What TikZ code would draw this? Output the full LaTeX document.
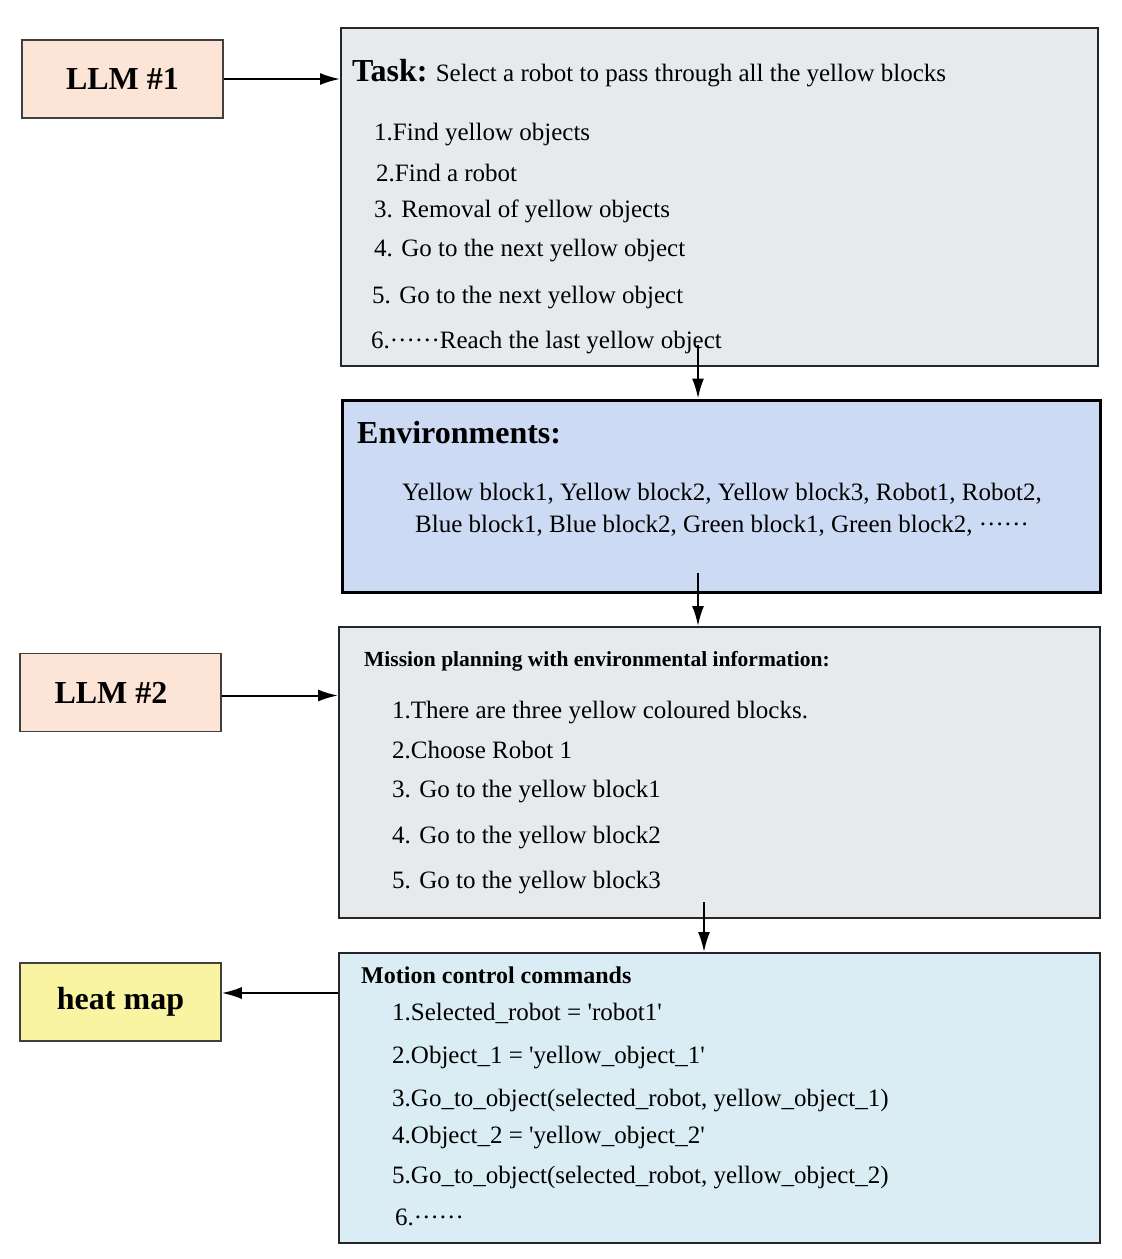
\documentclass[tikz,border=0pt]{standalone}
\usepackage{fontspec}
\setmainfont{Liberation Serif}
\usetikzlibrary{arrows.meta}
\definecolor{peach}{HTML}{FCE4D6}
\definecolor{panelgray}{HTML}{E7EAED}
\definecolor{envblue}{HTML}{CCDAF3}
\definecolor{cmdblue}{HTML}{DAEDF4}
\definecolor{heatyellow}{HTML}{F8F4A2}
\newcommand{\middots}{\raisebox{0.28em}{……}}
\newcommand{\sq}{\textquotesingle}

\begin{document}
\begin{tikzpicture}[x=1pt, y=-1pt,
        llmbox/.style={draw=black!75, line width=1.5pt, minimum width=201pt, minimum height=78pt,
            inner sep=0pt, font=\bfseries\fontsize{32}{38}\selectfont},
        panel/.style={draw=black!85, line width=2pt, inner sep=0pt},
        line/.style={anchor=base west, inner sep=0pt, font=\fontsize{25}{30}\selectfont},
        flow/.style={-{Latex[length=20pt, width=12pt]}, line width=2pt}]
        \useasboundingbox (0, 0) rectangle (1122, 1259);

        \node[llmbox, fill=peach] (llm1) at (122.5, 79) {LLM \#1};
        \node[llmbox, fill=peach] (llm2) at (120.5, 692.5) {\hspace*{-19pt}LLM \#2};
        \node[llmbox, fill=heatyellow] (heat) at (120.5, 1002) {heat map};

        \node[panel, fill=panelgray, minimum width=757pt, minimum height=338pt] (task) at (719.5, 197) {};
        \node[panel, fill=envblue, draw=black, line width=3pt, minimum width=758pt, minimum height=192pt] (env) at (721, 496) {};
        \node[panel, fill=panelgray, minimum width=761pt, minimum height=291pt] (mission) at (719.5, 772.5) {};
        \node[panel, fill=cmdblue, minimum width=761pt, minimum height=290pt] (motion) at (719.5, 1098) {};

        \node[line] (task-head) at (352, 81) {{\bfseries\fontsize{32}{38}\selectfont Task:} Select a robot to pass through all the yellow blocks};
        \node[line] (task-1) at (374, 140) {1.Find yellow objects};
        \node[line] (task-2) at (376, 181) {2.Find a robot};
        \node[line] (task-3) at (374, 217) {3. Removal of yellow objects};
        \node[line] (task-4) at (374, 256) {4. Go to the next yellow object};
        \node[line] (task-5) at (372, 303) {5. Go to the next yellow object};
        \node[line] (task-6) at (371, 348) {6.\middots Reach the last yellow object};

        \node[line, font=\bfseries\fontsize{32}{38}\selectfont] (env-head) at (357, 443) {Environments:};
        \node[inner sep=0pt, align=center, font=\fontsize{25}{32}\selectfont] (env-list) at (722, 510)
            {Yellow block1, Yellow block2, Yellow block3, Robot1, Robot2,\\
             Blue block1, Blue block2, Green block1, Green block2, \middots};

        \node[line, font=\bfseries\fontsize{21.5}{26}\selectfont] (mission-head) at (364, 666) {Mission planning with environmental information:};
        \node[line] (mission-1) at (392, 718) {1.There are three yellow coloured blocks.};
        \node[line] (mission-2) at (392, 758) {2.Choose Robot 1};
        \node[line] (mission-3) at (392, 797) {3. Go to the yellow block1};
        \node[line] (mission-4) at (392, 843) {4. Go to the yellow block2};
        \node[line] (mission-5) at (392, 888) {5. Go to the yellow block3};

        \node[line, font=\bfseries\fontsize{24}{29}\selectfont] (motion-head) at (361, 983) {Motion control commands};
        \node[line] (motion-1) at (392, 1020) {1.Selected\_robot = \sq robot1\sq};
        \node[line] (motion-2) at (392, 1063) {2.Object\_1 = \sq yellow\_object\_1\sq};
        \node[line] (motion-3) at (392, 1106) {3.Go\_to\_object(selected\_robot, yellow\_object\_1)};
        \node[line] (motion-4) at (392, 1143) {4.Object\_2 = \sq yellow\_object\_2\sq};
        \node[line] (motion-5) at (392, 1183) {5.Go\_to\_object(selected\_robot, yellow\_object\_2)};
        \node[line] (motion-6) at (395, 1225) {6.\middots};

        \coordinate (task-out) at (698, 345);
        \coordinate (env-out) at (698, 573);
        \coordinate (mission-out) at (704, 902);

        \draw[flow] (llm1.east) -- (llm1.east -| task.west);
        \draw[flow] ([yshift=-3pt]llm2.east) -- ([yshift=-3pt]llm2.east -| mission.west);
        \draw[flow] (task-out) -- (task-out |- env.north);
        \draw[flow] (env-out) -- (env-out |- mission.north);
        \draw[flow] (mission-out) -- (mission-out |- motion.north);
        \draw[flow] ([yshift=9pt]heat.east -| motion.west) -- ([yshift=9pt]heat.east);
    \end{tikzpicture}
\end{document}
